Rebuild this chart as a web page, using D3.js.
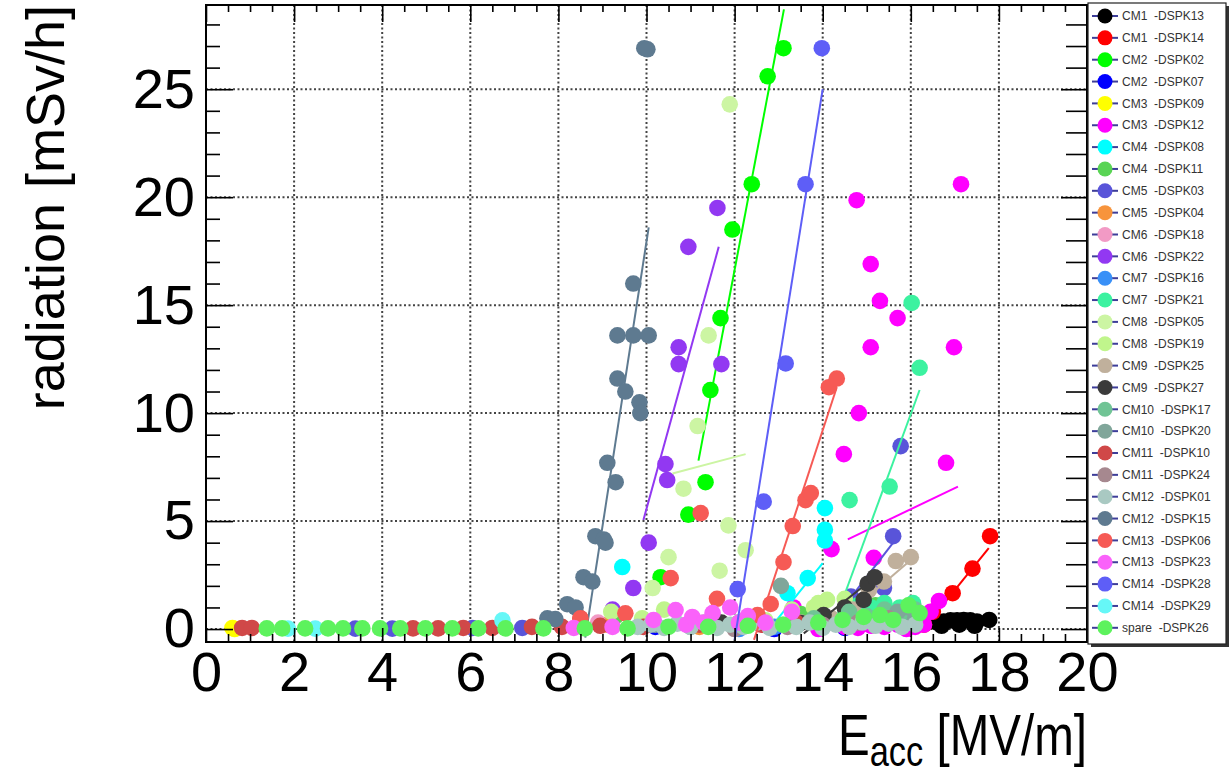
<!DOCTYPE html>
<html>
<head>
<meta charset="utf-8">
<script src="https://cdn.jsdelivr.net/npm/d3@7"></script>
<style>
  body { margin: 0; background: #fff; }
  svg { display: block; }
  text { font-family: "Liberation Sans", Arial, Helvetica, sans-serif; }
</style>
</head>
<body>
<svg id="chart"></svg>
<script>
// ---- data ----
const xTicks = [0, 2, 4, 6, 8, 10, 12, 14, 16, 18, 20];
const yTicks = [0, 5, 10, 15, 20, 25];

const seriesNames = [
  'CM1  -DSPK13', 'CM1  -DSPK14', 'CM2  -DSPK02', 'CM2  -DSPK07', 'CM3  -DSPK09',
  'CM3  -DSPK12', 'CM4  -DSPK08', 'CM4  -DSPK11', 'CM5  -DSPK03', 'CM5  -DSPK04',
  'CM6  -DSPK18', 'CM6  -DSPK22', 'CM7  -DSPK16', 'CM7  -DSPK21', 'CM8  -DSPK05',
  'CM8  -DSPK19', 'CM9  -DSPK25', 'CM9  -DSPK27', 'CM10  -DSPK17', 'CM10  -DSPK20',
  'CM11  -DSPK10', 'CM11  -DSPK24', 'CM12  -DSPK01', 'CM12  -DSPK15', 'CM13  -DSPK06',
  'CM13  -DSPK23', 'CM14  -DSPK28', 'CM14  -DSPK29', 'spare  -DSPK26'];

const seriesColors = [
  '#000000', '#ff0000', '#00ff00', '#0000ff', '#ffff00',
  '#ff00ff', '#00ffff', '#59d454', '#5954d9', '#f7943c',
  '#f29ac5', '#9238f2', '#3990f7', '#3cf2a0', '#ccf5a3',
  '#c0f58c', '#c0b09c', '#3b3b3b', '#70c495', '#80a69a',
  '#d04848', '#a6888f', '#a9c9c2', '#5e7a90', '#f65a55',
  '#fa62fa', '#5e5ef7', '#66f7f7', '#5df25d'];

const cm1_dspk13 = [[16.6, 0.3], [16.7, 0.15], [16.75, 0.35], [16.9, 0.4], [17.05, 0.4], [17.1, 0.2],
  [17.2, 0.42], [17.35, 0.4], [17.45, 0.15], [17.5, 0.35], [17.78, 0.42]];
const cm1_dspk14 = [[16.3, 0.2], [16.5, 0.8], [16.95, 1.66], [17.4, 2.8], [17.8, 4.3]];
const cm2_dspk02 = [[10.32, 2.4], [10.95, 5.3], [11.34, 6.8], [11.45, 11.07], [11.68, 14.4],
  [11.95, 18.5], [12.39, 20.6], [12.75, 25.6], [13.11, 26.9]];
const cm2_dspk07 = [[10.2, 0.1], [12.9, 0.0], [14.5, 0.05]];
const cm3_dspk09 = [[0.6, 0.05], [0.65, 0.0]];
const cm3_dspk12 = [[13.34, 1.0], [13.9, 0.0], [14.2, 3.7], [14.48, 8.1], [14.5, 0.1], [14.77, 19.86],
  [14.8, 0.05], [14.82, 10.0], [15.09, 13.05], [15.09, 16.9], [15.1, 0.15], [15.16, 3.3], [15.3, 15.2],
  [15.4, 0.1], [15.7, 14.4], [15.7, 0.2], [15.9, 0.0], [16.1, 0.1], [16.3, 0.2], [16.45, 0.8],
  [16.64, 1.3], [16.8, 7.7], [16.98, 13.05], [17.14, 20.6]];
const cm4_dspk08 = [[9.45, 2.87], [12.3, 0.3], [13.2, 1.66], [13.66, 2.36], [14.05, 4.1], [14.05, 4.6], [14.05, 5.6]];
const cm4_dspk11 = [[9.3, 0.6], [12.1, 0.3], [13.5, 0.7], [14.6, 0.9], [15.2, 1.1], [16.0, 0.9]];
const cm5_dspk03 = [[3.39, 0.02], [4.23, 0.02], [6.05, 0.05], [7.18, 0.05], [14.64, 1.5], [15.39, 1.9],
  [15.6, 4.3], [15.77, 8.47]];
const cm5_dspk04 = [[9.1, 0.2], [11.2, 0.1]];
const cm6_dspk18 = [[8.9, 0.3], [11.0, 0.2]];
const cm6_dspk22 = [[9.23, 0.9], [9.7, 1.9], [10.05, 4.0], [10.43, 7.64], [10.47, 6.9], [10.73, 12.27],
  [10.73, 13.05], [10.95, 17.7], [11.61, 19.5], [11.7, 12.27]];
const cm7_dspk16 = [[12.1, 0.0], [12.9, 0.1]];
const cm7_dspk21 = [[14.61, 5.97], [14.8, 1.1], [15.1, 1.0], [15.4, 1.2], [15.52, 6.6], [15.75, 1.0],
  [16.02, 15.1], [16.05, 1.2], [16.2, 12.1]];
const cm8_dspk05 = [[10.14, 1.9], [10.5, 3.33], [10.84, 6.5], [11.16, 9.4], [11.41, 13.6], [11.66, 2.7],
  [11.86, 4.8], [11.89, 24.3], [12.25, 3.65]];
const cm8_dspk19 = [[9.2, 0.8], [9.9, 0.5], [10.4, 0.9], [11.5, 0.6], [12.7, 0.4], [13.3, 0.9],
  [13.8, 1.0], [13.9, 1.2], [14.1, 1.35], [14.5, 1.4]];
const cm9_dspk25 = [[13.5, 0.3], [14.2, 0.5], [14.7, 0.9], [15.05, 1.8], [15.39, 2.2], [15.66, 3.15], [16.0, 3.33]];
const cm9_dspk27 = [[11.7, 0.3], [13.5, 0.28], [14.02, 0.65], [14.5, 1.0], [14.93, 1.35], [15.02, 2.1], [15.18, 2.4]];
const cm10_dspk17 = [[12.5, 0.4], [13.8, 0.5], [14.6, 0.8], [15.0, 0.6], [15.4, 0.9], [15.8, 0.7], [16.1, 0.9]];
const cm10_dspk20 = [[10.2, 0.2], [11.0, 0.1], [12.2, 0.2], [13.05, 2.0], [14.9, 0.4], [15.7, 0.8],
  [15.95, 1.0], [16.1, 0.5]];
const cm11_dspk10 = [[0.82, 0.05], [1.04, 0.05], [4.7, 0.03], [5.27, 0.03], [5.84, 0.05], [6.5, 0.05],
  [7.4, 0.1], [8.08, 0.1], [8.5, 0.5], [8.95, 0.15], [9.93, 0.1], [11.2, 0.2], [12.6, 0.2], [13.4, 0.3]];
const cm11_dspk24 = [[12.0, 0.0], [13.2, 0.1], [14.0, 0.2], [14.8, 0.3], [15.5, 0.5]];
const cm12_dspk01 = [[9.8, 0.1], [10.1, 0.2], [10.4, 0.05], [10.7, 0.25], [11.0, 0.1], [11.3, 0.3],
  [11.6, 0.05], [11.9, 0.2], [12.2, 0.1], [12.5, 0.3], [12.8, 0.05], [13.1, 0.2], [13.4, 0.1],
  [13.7, 0.3], [14.0, 0.05], [14.3, 0.2], [14.6, 0.1], [14.9, 0.3], [15.2, 0.15], [15.5, 0.25],
  [15.8, 0.1], [16.1, 0.2]];
const cm12_dspk15 = [[7.75, 0.5], [7.93, 0.46], [8.2, 1.15], [8.39, 1.0], [8.57, 2.4], [8.77, 2.2],
  [8.84, 4.3], [9.03, 4.15], [9.07, 4.0], [9.11, 7.7], [9.3, 6.8], [9.34, 11.6], [9.34, 13.6],
  [9.52, 11.0], [9.7, 13.6], [9.7, 16.0], [9.84, 10.5], [9.86, 10.0], [10.05, 13.6], [9.95, 26.9], [10.02, 26.85]];
const cm13_dspk06 = [[8.5, 0.5], [9.52, 0.73], [10.55, 2.36], [11.23, 5.37], [11.6, 1.4], [12.52, 0.65],
  [12.82, 1.16], [13.11, 3.1], [13.32, 4.77], [13.61, 5.97], [13.73, 6.3], [14.14, 11.2], [14.32, 11.6]];
const cm13_dspk23 = [[8.35, 0.05], [9.23, 0.1], [10.16, 0.42], [10.66, 0.88], [10.9, 0.2], [11.04, 0.56],
  [11.3, 0.3], [11.5, 0.74], [11.9, 1.0], [12.1, 0.3], [12.3, 0.6], [12.7, 0.3], [13.3, 0.8]];
const cm14_dspk28 = [[12.07, 1.85], [12.66, 5.9], [13.16, 12.3], [13.61, 20.6], [13.98, 26.9]];
const cm14_dspk29 = [[1.86, 0.02], [2.48, 0.02], [6.73, 0.4]];
const spare_dspk26 = [[1.38, 0.03], [1.73, 0.03], [2.25, 0.03], [2.77, 0.03], [3.11, 0.03], [3.55, 0.03],
  [3.95, 0.03], [4.41, 0.03], [4.98, 0.03], [5.59, 0.03], [6.18, 0.03], [6.8, 0.03], [7.66, 0.03],
  [8.6, 0.03], [9.57, 0.03], [10.5, 0.1], [11.4, 0.1], [12.3, 0.15], [13.1, 0.2], [13.9, 0.3],
  [14.45, 0.42], [14.93, 0.56], [15.3, 0.65], [15.6, 0.42], [15.95, 1.1], [16.2, 0.74]];

const seriesPoints = [
  cm1_dspk13, cm1_dspk14, cm2_dspk02, cm2_dspk07, cm3_dspk09,
  cm3_dspk12, cm4_dspk08, cm4_dspk11, cm5_dspk03, cm5_dspk04,
  cm6_dspk18, cm6_dspk22, cm7_dspk16, cm7_dspk21, cm8_dspk05,
  cm8_dspk19, cm9_dspk25, cm9_dspk27, cm10_dspk17, cm10_dspk20,
  cm11_dspk10, cm11_dspk24, cm12_dspk01, cm12_dspk15, cm13_dspk06,
  cm13_dspk23, cm14_dspk28, cm14_dspk29, spare_dspk26];

// linear fits drawn over the fitted range: [series index, x0, y0, x1, y1]
const fitLines = [
  [0, 16.6, 0.3, 17.8, 0.42],
  [1, 16.68, 1.0, 17.77, 3.75],
  [2, 11.18, 7.8, 13.12, 28.7],
  [5, 14.57, 4.15, 17.07, 6.6],
  [6, 12.95, 0.4, 14.0, 3.05],
  [8, 14.2, 0.3, 15.6, 4.0],
  [11, 9.93, 5.05, 11.64, 17.7],
  [13, 14.3, 0.5, 16.2, 11.07],
  [14, 10.59, 7.2, 12.25, 8.1],
  [16, 14.4, 0.4, 16.0, 3.2],
  [17, 13.57, -0.2, 15.25, 2.5],
  [23, 8.61, -0.4, 10.05, 18.6],
  [24, 12.44, -0.5, 14.32, 11.2],
  [26, 12.0, -0.5, 14.0, 25.0]];

// ---- layout ----
const width = 1230;
const height = 779;
const frameLeft = 206, frameRight = 1087, frameTop = 5, frameBottom = 642;

const svg = d3.select('#chart').attr('width', width).attr('height', height);
svg.append('rect').attr('width', width).attr('height', height).attr('fill', '#fff');

const x = d3.scaleLinear().domain([0, 20]).range([frameLeft, frameRight]);
const y = d3.scaleLinear().domain([-0.6, 28.9]).range([frameBottom, frameTop]);

svg.append('clipPath').attr('id', 'plotclip')
  .append('rect')
  .attr('x', frameLeft).attr('y', frameTop)
  .attr('width', frameRight - frameLeft).attr('height', frameBottom - frameTop);

// grid
const grid = svg.append('g')
  .attr('stroke', '#444')
  .attr('stroke-width', 2)
  .attr('stroke-dasharray', '2,2.5');

grid.selectAll('.vgrid')
  .data(xTicks.filter(d => d > 0 && d < 20))
  .enter()
  .append('line')
  .attr('x1', d => x(d)).attr('x2', d => x(d))
  .attr('y1', frameTop).attr('y2', frameBottom);

grid.selectAll('.hgrid')
  .data(yTicks)
  .enter()
  .append('line')
  .attr('y1', d => y(d)).attr('y2', d => y(d))
  .attr('x1', frameLeft).attr('x2', frameRight);

// data
const plot = svg.append('g').attr('clip-path', 'url(#plotclip)');

seriesPoints.forEach((pts, i) => {
  const g = plot.append('g');
  fitLines.filter(f => f[0] === i).forEach(f => {
    g.append('line')
      .attr('x1', x(f[1])).attr('y1', y(f[2]))
      .attr('x2', x(f[3])).attr('y2', y(f[4]))
      .attr('stroke', seriesColors[i])
      .attr('stroke-width', 2);
  });
  g.selectAll('circle')
    .data(pts)
    .enter()
    .append('circle')
    .attr('cx', d => x(d[0]))
    .attr('cy', d => y(d[1]))
    .attr('r', 8.3)
    .attr('fill', seriesColors[i]);
});

// axes (ROOT style: ticks inside the frame)
const minorX = d3.range(0, 20.01, 0.5).filter(v => v % 2 !== 0);
const minorY = d3.range(0, 29, 1).filter(v => v % 5 !== 0);

const axisStyle = sel => {
  sel.select('.domain').remove();
  sel.selectAll('.tick line').attr('stroke', '#000').attr('stroke-width', 1.6);
};

svg.append('g')
  .attr('transform', `translate(0,${frameBottom})`)
  .call(d3.axisBottom(x).tickValues(xTicks).tickSize(-14).tickPadding(9).tickFormat(d3.format('d')))
  .call(axisStyle)
  .call(g => g.selectAll('text').attr('font-size', 56).attr('fill', '#000')
    .attr('font-family', '"Liberation Sans", Arial, sans-serif'));

svg.append('g')
  .attr('transform', `translate(0,${frameBottom})`)
  .call(d3.axisBottom(x).tickValues(minorX).tickSize(-8).tickFormat(''))
  .call(axisStyle);

svg.append('g')
  .attr('transform', `translate(0,${frameTop})`)
  .call(d3.axisTop(x).tickValues(xTicks).tickSize(-17).tickFormat(''))
  .call(axisStyle);

svg.append('g')
  .attr('transform', `translate(0,${frameTop})`)
  .call(d3.axisTop(x).tickValues(minorX).tickSize(-7).tickFormat(''))
  .call(axisStyle);

svg.append('g')
  .attr('transform', `translate(${frameLeft},0)`)
  .call(d3.axisLeft(y).tickValues(yTicks).tickSize(-27).tickPadding(11).tickFormat(d3.format('d')))
  .call(axisStyle)
  .call(g => g.selectAll('text').attr('font-size', 56).attr('fill', '#000')
    .attr('font-family', '"Liberation Sans", Arial, sans-serif'));

svg.append('g')
  .attr('transform', `translate(${frameLeft},0)`)
  .call(d3.axisLeft(y).tickValues(minorY).tickSize(-14).tickFormat(''))
  .call(axisStyle);

svg.append('g')
  .attr('transform', `translate(${frameRight},0)`)
  .call(d3.axisRight(y).tickValues(yTicks).tickSize(-26).tickFormat(''))
  .call(axisStyle);

svg.append('g')
  .attr('transform', `translate(${frameRight},0)`)
  .call(d3.axisRight(y).tickValues(minorY).tickSize(-21).tickFormat(''))
  .call(axisStyle);

// frame
svg.append('rect')
  .attr('x', frameLeft).attr('y', frameTop)
  .attr('width', frameRight - frameLeft).attr('height', frameBottom - frameTop)
  .attr('fill', 'none').attr('stroke', '#000').attr('stroke-width', 2);

// axis titles
svg.append('text')
  .attr('transform', `translate(64,${frameTop}) rotate(-90)`)
  .attr('text-anchor', 'end')
  .attr('font-size', 54)
  .attr('fill', '#000')
  .text('radiation [mSv/h]');

// x title is a little condensed in the original
const xt = svg.append('text')
  .attr('transform', `translate(${frameRight},755) scale(0.82,1)`)
  .attr('text-anchor', 'end')
  .attr('font-size', 58)
  .attr('fill', '#000');
xt.append('tspan').text('E');
xt.append('tspan').attr('font-size', 42).attr('dy', 11).text('acc');
xt.append('tspan').attr('dy', -11).text(' [MV/m]');

// legend
const legendX = 1088, legendY = 3, legendW = 138, legendH = 641;
const legend = svg.append('g');
legend.append('rect')
  .attr('x', legendX + 3).attr('y', legendY + 3)
  .attr('width', legendW).attr('height', legendH)
  .attr('fill', '#333');
legend.append('rect')
  .attr('x', legendX).attr('y', legendY)
  .attr('width', legendW).attr('height', legendH)
  .attr('fill', '#fff').attr('stroke', '#222').attr('stroke-width', 1.2);

const rowY = i => 16 + i * 21.85;
const rows = legend.selectAll('.row')
  .data(seriesNames)
  .enter()
  .append('g')
  .attr('transform', (d, i) => `translate(0,${rowY(i)})`);

rows.append('line')
  .attr('x1', 1092).attr('x2', 1118)
  .attr('stroke', '#3d3d99').attr('stroke-width', 2);
rows.append('circle')
  .attr('cx', 1105).attr('r', 7.5)
  .attr('fill', (d, i) => seriesColors[i]);
rows.append('text')
  .attr('x', 1122).attr('dy', '0.35em')
  .attr('font-size', 12)
  .attr('fill', '#333')
  .style('white-space', 'pre')
  .text(d => d);
</script>
</body>
</html>
